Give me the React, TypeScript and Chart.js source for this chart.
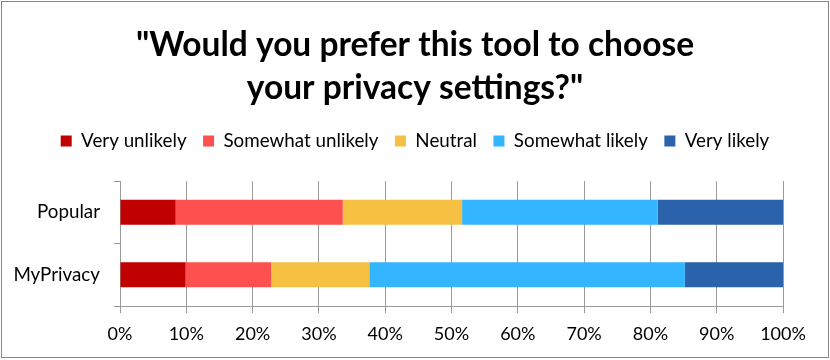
import React, { useEffect, useRef } from "react";
import { Chart, registerables } from "chart.js";

Chart.register(...registerables);

const categories = ["Popular", "MyPrivacy"];
const seriesNames = ["Very unlikely", "Somewhat unlikely", "Neutral", "Somewhat likely", "Very likely"];
const veryUnlikely = [8.4, 9.9];
const somewhatUnlikely = [25.2, 12.9];
const neutral = [18.0, 14.8];
const somewhatLikely = [29.5, 47.6];
const veryLikely = [18.9, 14.8];
const seriesColors = ["#C00000", "#FF5050", "#F6C143", "#33B5FF", "#2A62AC"];
const titleLines = ['"Would you prefer this tool to choose', 'your privacy settings?"'];
const xTickValues = [0, 10, 20, 30, 40, 50, 60, 70, 80, 90, 100];

export default function App() {
  const ref = useRef<HTMLCanvasElement | null>(null);

  useEffect(() => {
    if (!ref.current) return;
    const seriesValues = [veryUnlikely, somewhatUnlikely, neutral, somewhatLikely, veryLikely];
    const FONT = "Lato, 'Open Sans', sans-serif";
    const chart = new Chart(ref.current, {
      type: "bar",
      data: {
        labels: categories,
        datasets: seriesNames.map((name, i) => ({
          label: name,
          data: seriesValues[i],
          backgroundColor: seriesColors[i],
          borderWidth: 0,
          barPercentage: 0.4,
          categoryPercentage: 1.0,
        })),
      },
      options: {
        indexAxis: "y",
        responsive: false,
        animation: false,
        layout: { padding: { left: 0, right: 0, top: 0, bottom: 0 } },
        plugins: {
          title: {
            display: true,
            text: titleLines,
            color: "#000",
            font: { family: FONT, size: 33.5, weight: "bold", lineHeight: 1.284 },
            padding: { top: 23.5, bottom: 5.6 },
          },
          subtitle: {
            display: true,
            text: " ",
            weight: 500,
            font: { family: FONT, size: 1, lineHeight: 1 },
            padding: { top: 19.6, bottom: 0 },
          } as any,
          legend: {
            display: true,
            position: "top",
            labels: {
              boxWidth: 11,
              boxHeight: 11,
              padding: 16.5,
              color: "#000",
              font: { family: FONT, size: 18.8 },
            },
          },
          tooltip: { enabled: false },
        },
        scales: {
          x: {
            stacked: true,
            min: 0,
            max: 100,
            afterBuildTicks: (s: any) => {
              s.ticks = xTickValues.map((v) => ({ value: v }));
            },
            afterFit: (s: any) => {
              s.height = 54;
              s.paddingRight = 47;
            },
            grid: { color: "#999", lineWidth: 1, tickLength: 7, drawTicks: true },
            border: { display: true, color: "#999", width: 1 },
            ticks: {
              color: "#000",
              padding: 10.5,
              maxRotation: 0,
              font: { family: FONT, size: 18 },
              callback: (v: any) => v + "%",
            },
          },
          y: {
            stacked: true,
            afterFit: (s: any) => {
              s.width = 120;
            },
            grid: { offset: true, drawOnChartArea: false, color: "#999", tickLength: 6 },
            border: { display: true, color: "#999", width: 1 },
            ticks: { color: "#000", padding: 14, font: { family: FONT, size: 18.8 } },
          },
        },
      },
    });
    return () => chart.destroy();
  }, []);

  return (
    <div style={{ position: "absolute", left: 0, top: 0, width: 830, height: 360, background: "#fff" }}>
      <div
        style={{
          position: "absolute",
          left: 1,
          top: 1,
          width: 828,
          height: 357,
          boxSizing: "border-box",
          border: "1px solid #868686",
        }}
      />
      <canvas
        ref={ref}
        width={830}
        height={360}
        style={{ position: "absolute", left: 0, top: 0, width: 830, height: 360 }}
      />
    </div>
  );
}
